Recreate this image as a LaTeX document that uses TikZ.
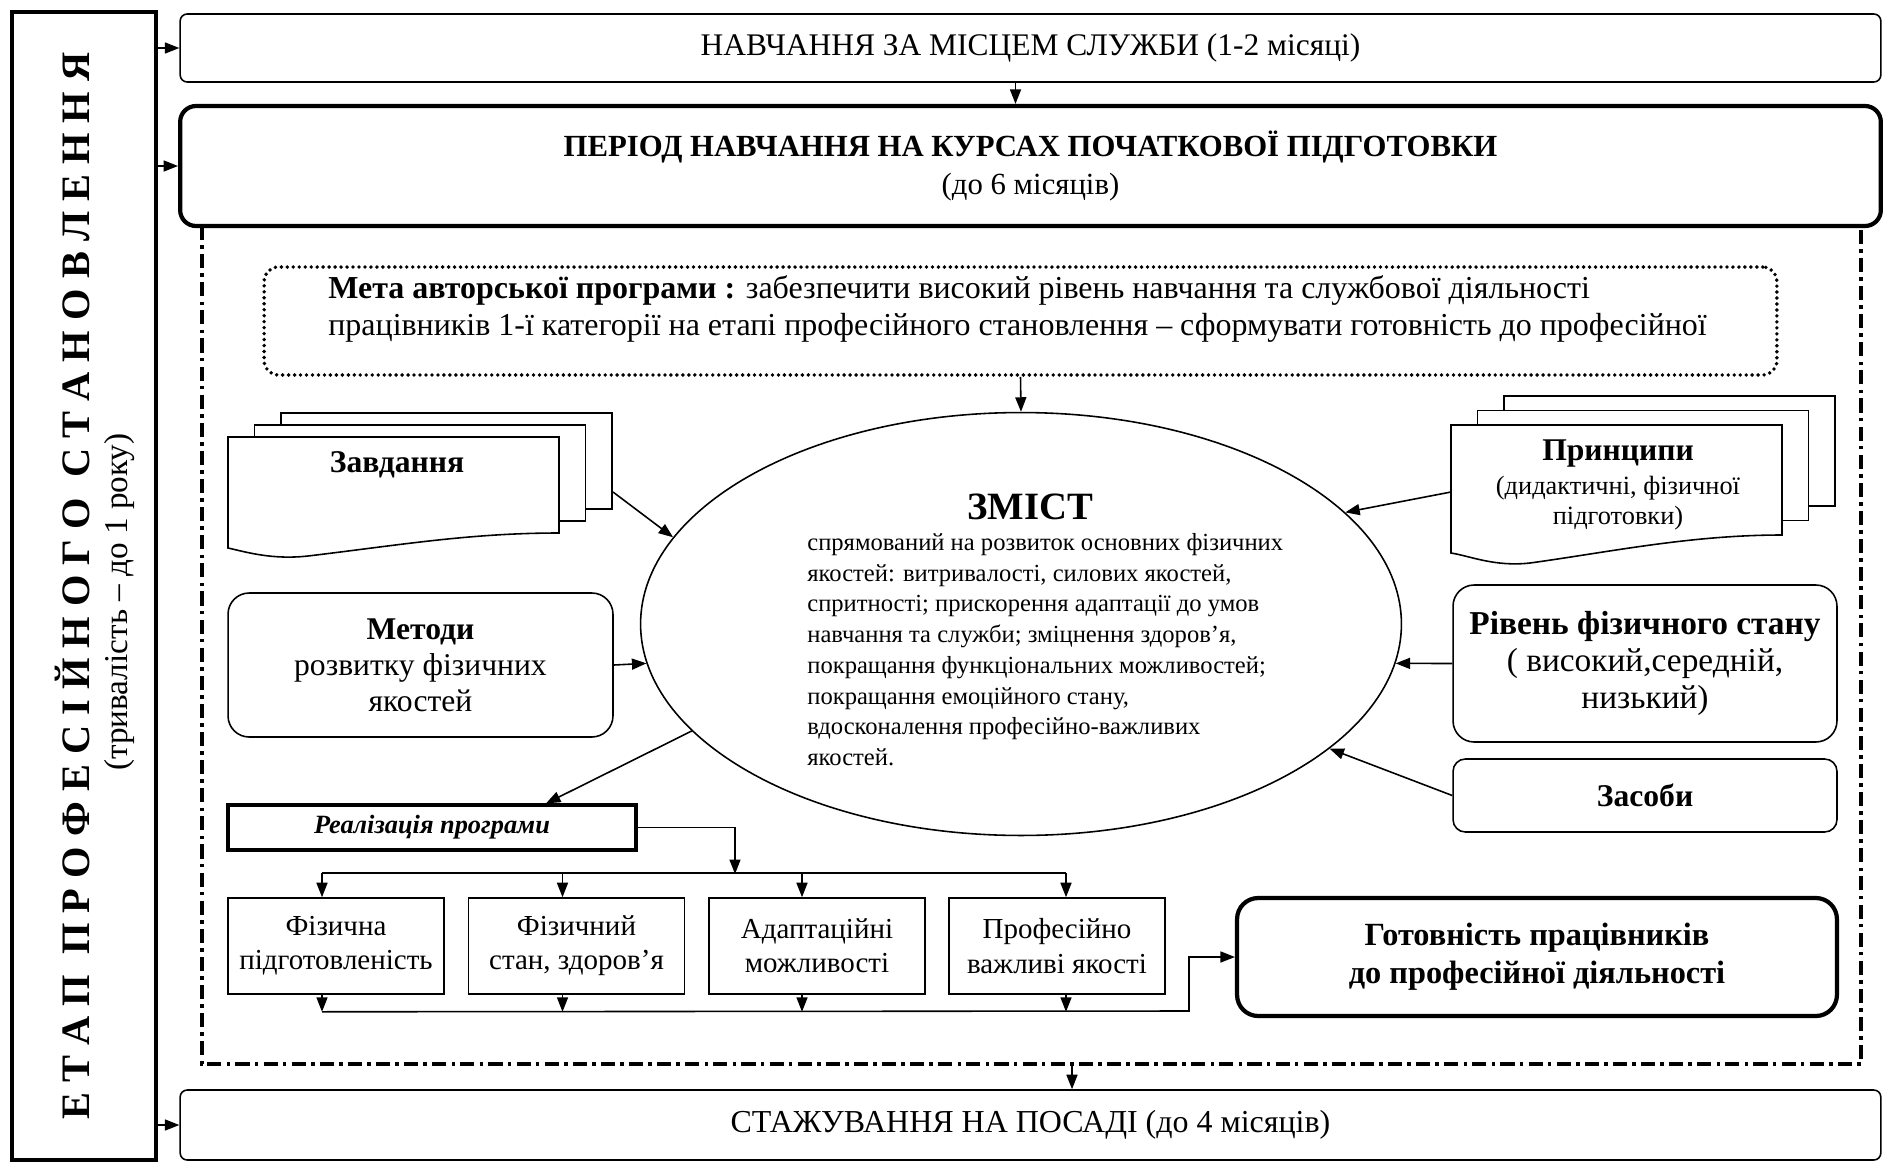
\documentclass[tikz,border=0pt]{standalone}
\usepackage{fontspec}
\setmainfont{Liberation Serif}
\usepackage{tikz}
\usetikzlibrary{arrows.meta, positioning, calc, shapes.geometric}
\newcommand{\fsz}[2]{\fontsize{#1}{#2}\selectfont}

\begin{document}
\begin{tikzpicture}[
  x=0.02cm, y=-0.02cm,
  font=\fsz{17.9}{21},
  >={Triangle[length=2.9mm, width=2.2mm]},
  line join=miter,
  frame/.style={draw, line width=0.9pt, rounded corners=4pt, minimum width=34.02cm,
                inner sep=0pt, align=center},
  rbox/.style={draw, line width=0.9pt, rounded corners=12pt, align=center, inner sep=0pt},
  qbox/.style={draw, line width=0.9pt, minimum width=4.32cm, minimum height=1.92cm,
               align=center, inner sep=0pt, font=\fsz{16.5}{19.5}},
  sheet/.style={draw, fill=white, line width=0.9pt},
  arr/.style={->, line width=0.9pt},
  conn/.style={line width=0.9pt},
  course/.style={line width=1.9pt, dash pattern=on 8pt off 3pt on 2pt off 3pt},
]
\useasboundingbox (0,0) rectangle (1883,1163);

% left: the whole stage
\node[draw, line width=2.2pt, minimum width=2.88cm, minimum height=22.96cm, inner sep=0pt] (stage) at (84,586) {};
\node[rotate=90, font=\fsz{23}{27}\bfseries] (stagetitle) at (72,586)
  {Е Т А П~~П Р О Ф Е С І Й Н О Г О~~С Т А Н О В Л Е Н Н Я};
\node[rotate=90, font=\fsz{18.9}{22}] (stagesub) at (120,602) {(тривалість – до 1 року)};

% periods
\node[frame, minimum height=1.36cm] (nav) at (1030.5,48) {НАВЧАННЯ ЗА МІСЦЕМ СЛУЖБИ (1-2 місяці)};
\node[frame, line width=2.4pt, rounded corners=9pt, minimum height=2.4cm, font=\fsz{17.5}{22}] (period) at (1030.5,166)
  {\textbf{ПЕРІОД НАВЧАННЯ НА КУРСАХ ПОЧАТКОВОЇ ПІДГОТОВКИ}\\(до 6 місяців)};
\node[frame, minimum height=1.4cm, font=\fsz{18.2}{21}] (stazh) at (1030.5,1125) {СТАЖУВАННЯ НА ПОСАДІ (до 4 місяців)};

\draw[arr] (nav.west -| stage.east) -- (nav.west);
\draw[arr] (period.west -| stage.east) -- (period.west);
\draw[arr] (stazh.west -| stage.east) -- (stazh.west);
\draw[arr] ([xshift=-0.3cm]nav.south) -- ([xshift=-0.3cm]period.north);

% dash-dot frame of the course
\draw[course] (202,226) |- (1861,1064) -- (1861,226);
\coordinate (coursebot) at (1072,1064);
\draw[arr] (coursebot) -- (coursebot |- stazh.north);

% goal
\node[draw, line width=2.2pt, dash pattern=on 0pt off 3.4pt, line cap=round, rounded corners=8pt,
      minimum width=30.26cm, minimum height=2.16cm] (meta) at (1020.5,321) {};
\node[anchor=west, align=left, font=\fsz{18.2}{20.5}, inner sep=0pt] (metatext) at (328,309)
  {\textbf{Мета авторської програми :} забезпечити високий рівень навчання та службової діяльності\\
   працівників 1-ї категорії на етапі професійного становлення – сформувати готовність до професійної};

% content
\node[draw, ellipse, line width=0.9pt, minimum width=15.22cm, minimum height=8.46cm, inner sep=0pt] (zmist) at (1021,624) {};
\node[font=\fsz{22}{26}\bfseries] (zmisthead) at (1030,507) {ЗМІСТ};
\node[anchor=north west, align=left, font=\fsz{14}{17.5}, inner sep=0pt] (zmisttext) at (807,533)
  {спрямований на розвиток основних фізичних\\
   якостей: витривалості, силових якостей,\\
   спритності; прискорення адаптації до умов\\
   навчання та служби; зміцнення здоров’я,\\
   покращання функціональних можливостей;\\
   покращання емоційного стану,\\
   вдосконалення професійно-важливих\\
   якостей.};
\draw[arr] (meta.south) -- (zmist.north);

% left inputs
\foreach \k in {2,1}
  \draw[sheet] ({228+26.5*\k},{437-12*\k}) rectangle ({559+26.5*\k},{533-12*\k});
\draw[sheet] (228,437) -- (559,437) -- (559,533) .. controls (470,533) and (400,545) .. (308,556)
  .. controls (272,560) and (246,552) .. (228,548) -- cycle;
\node[font=\fsz{18}{21}\bfseries] (zavd) at (397,465) {Завдання};
\coordinate (zavdout) at (613,492);
\draw[arr] (zavdout) -- (zmist.166);

\node[rbox, minimum width=7.7cm, minimum height=2.88cm, font=\fsz{18}{20.5}] (metodi) at (420.5,665)
  {\textbf{Методи}\\розвитку фізичних\\якостей};
\draw[arr] (metodi.east) -- (zmist.186);

% right inputs
\foreach \k in {2,1}
  \draw[sheet] ({1451+26.5*\k},{425-14.5*\k}) rectangle ({1782+26.5*\k},{535-14.5*\k});
\draw[sheet] (1451,425) -- (1782,425) -- (1782,535) .. controls (1690,535) and (1610,552) .. (1530,563)
  .. controls (1495,567) and (1470,556) .. (1451,553) -- cycle;
\node[align=center, font=\fsz{15}{17}] (pryn) at (1618,485)
  {{\fsz{18}{17}\bfseries Принципи}\\[2.5pt](дидактичні, фізичної\\підготовки)};
\coordinate (prynout) at (1451,492);
\draw[arr] (prynout) -- (zmist.19);

\node[rbox, minimum width=7.68cm, minimum height=3.14cm, font=\fsz{19}{21}] (riven) at (1645,663.5)
  {\textbf{Рівень фізичного стану}\\( високий,середній,\\низький)};
\draw[arr] (riven.west) -- (zmist.354);

\node[rbox, rounded corners=7pt, minimum width=7.68cm, minimum height=1.46cm, font=\fsz{18}{21}\bfseries] (zasoby) at (1645,795.5) {Засоби};
\draw[arr] (zasoby.west) -- (zmist.338);

% realization
\node[draw, line width=1.8pt, minimum width=8.16cm, minimum height=0.9cm, inner sep=0pt,
      font=\fsz{15}{18}\bfseries\itshape] (realiz) at (432,827.5) {Реалізація програми};
\draw[arr] (zmist.198) -- ([xshift=2.28cm]realiz.north);
\coordinate (busin) at (735,874);
\draw[arr] (realiz.east) -| (busin);

\foreach \n/\x/\t in {f1/336/{Фізична\\підготовленість}, f2/576.5/{Фізичний\\стан, здоров’я},
                     f3/817/{Адаптаційні\\можливості}, f4/1057/{Професійно\\важливі якості}}
  \node[qbox] (\n) at (\x,946) {\t};

\draw[conn] ($(f1.north)+(-14,-24)$) -- ($(f4.north)+(9,-24)$);
\foreach \n/\dx in {f1/-14, f2/-14, f3/-15, f4/9} {
  \draw[arr] ($(\n.north)+(\dx,-24)$) -- ($(\n.north)+(\dx,0)$);
  \draw[arr] ($(\n.south)+(\dx,0)$) -- ($(\n.south)+(\dx,17)$);
}

% result
\node[rbox, line width=2.4pt, minimum width=12cm, minimum height=2.36cm, font=\fsz{18.4}{21.5}\bfseries] (gotov) at (1537,957)
  {Готовність працівників\\до професійної діяльності};
\coordinate (botturn) at (1189,1011);
\draw[arr] ($(f1.south)+(-14,17)$) -- (botturn) |- (gotov.west);
\end{tikzpicture}
\end{document}
